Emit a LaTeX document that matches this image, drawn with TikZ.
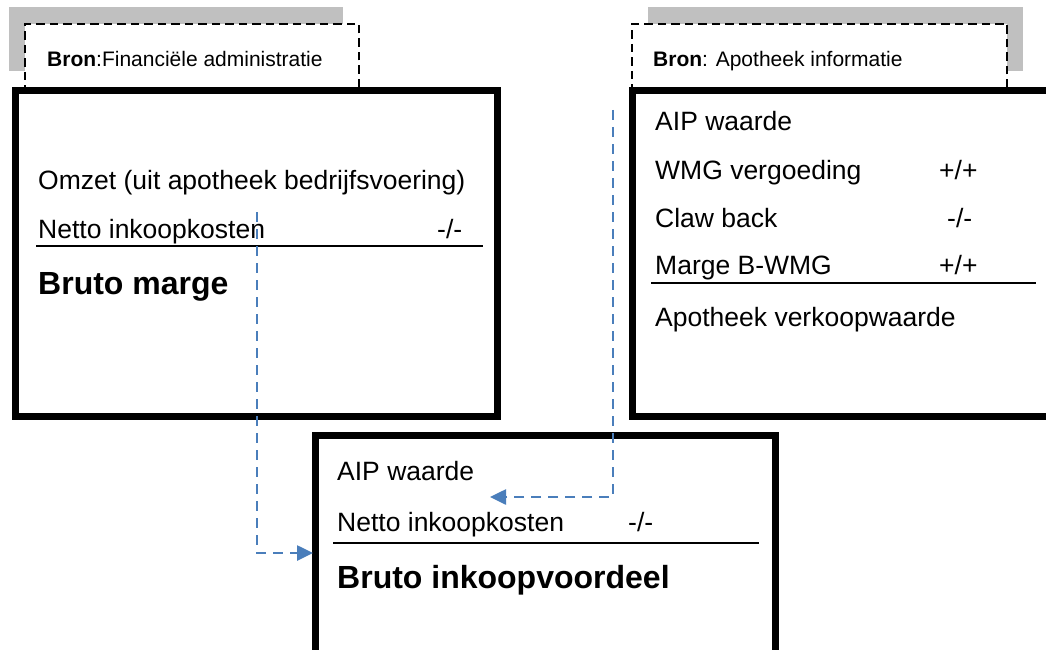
\documentclass[tikz,border=0pt]{standalone}
\usepackage{fontspec}
\setmainfont{Liberation Sans}
\usetikzlibrary{arrows.meta}
\definecolor{srcgray}{HTML}{C0C0C0}
\definecolor{linkblue}{HTML}{4A7EBB}
\tikzset{
 graybk/.style={fill=srcgray, draw=none, inner sep=0pt, outer sep=0pt, anchor=north west},
 srcbox/.style={draw=black, fill=white, line width=2.6pt, dash pattern=on 8.5pt off 5pt, inner sep=0pt, outer sep=0pt, anchor=north west},
 panel/.style={draw=black, fill=white, line width=7pt, inner sep=0pt, outer sep=0pt, anchor=north west},
 txt/.style={anchor=base west, inner sep=0pt, font=\fontsize{26.5}{30}\selectfont},
 bigtxt/.style={anchor=base west, inner sep=0pt, font=\fontsize{32}{36}\selectfont\bfseries},
 srctxt/.style={anchor=base west, inner sep=0pt, font=\fontsize{21}{25}\selectfont},
 rulel/.style={line width=2.2pt},
 link/.style={draw=linkblue, line width=2.6pt, dash pattern=on 10pt off 7pt, -{Triangle[length=16pt,width=15pt]}},
}
\begin{document}
\begin{tikzpicture}[x=1pt,y=-1pt]
\useasboundingbox (0,0) rectangle (1046,650);
\begin{scope}
\clip (0,0) rectangle (1046,650);
% source tabs
\node[graybk, minimum width=334pt, minimum height=64pt] (g1) at (9,7) {};
\node[srcbox, minimum width=334pt, minimum height=67pt] (s1) at (25,24) {};
\node[graybk, minimum width=375pt, minimum height=64pt] (g2) at (648,7) {};
\node[srcbox, minimum width=375pt, minimum height=67pt] (s2) at (632,24) {};
\node[srctxt] (s1t) at (47,67) {\textbf{Bron}:Financiële administratie};
\node[srctxt] (s2t) at (653,67) {\textbf{Bron}: Apotheek informatie};
% panels
\node[panel, minimum width=482pt, minimum height=325pt] (fin) at (15,91) {};
\node[panel, minimum width=440pt, minimum height=325pt] (apo) at (632,91) {};
\node[panel, minimum width=460pt, minimum height=260pt] (res) at (315,435) {};
% left panel text
\node[txt] (f1) at (38,189) {Omzet (uit apotheek bedrijfsvoering)};
\node[txt] (f2) at (38,238) {Netto inkoopkosten};
\node[txt] (f2s) at (437,238) {-/-};
\draw[rulel] (36,246) coordinate (fl1) -- (483,246) coordinate (fl2);
\node[bigtxt] (f3) at (38,294) {Bruto marge};
% right panel text
\node[txt] (a1) at (655,131) {AIP waarde};
\node[txt] (a2) at (655,179) {WMG vergoeding};
\node[txt] (a2s) at (939,179) {+/+};
\node[txt] (a3) at (655,227) {Claw back};
\node[txt] (a3s) at (947,227) {-/-};
\node[txt] (a4) at (655,274) {Marge B-WMG};
\node[txt] (a4s) at (939,274) {+/+};
\draw[rulel] (651,283) coordinate (al1) -- (1036,283) coordinate (al2);
\node[txt] (a5) at (655,326) {Apotheek verkoopwaarde};
% bottom panel text
\node[txt] (r1) at (337,480) {AIP waarde};
\node[txt] (r2) at (337,531) {Netto inkoopkosten};
\node[txt] (r2s) at (628,531) {-/-};
\draw[rulel] (333,543) coordinate (rl1) -- (759,543) coordinate (rl2);
\node[bigtxt] (r3) at (337,588) {Bruto inkoopvoordeel};
% connectors
\coordinate (c1a) at (257,212);
\coordinate (c1b) at (313,553);
\coordinate (c2a) at (613,110);
\coordinate (c2b) at (490,497);
\draw[link] (c1a) |- (c1b);
\draw[link] (c2a) |- (c2b);
\end{scope}
\end{tikzpicture}
\end{document}
